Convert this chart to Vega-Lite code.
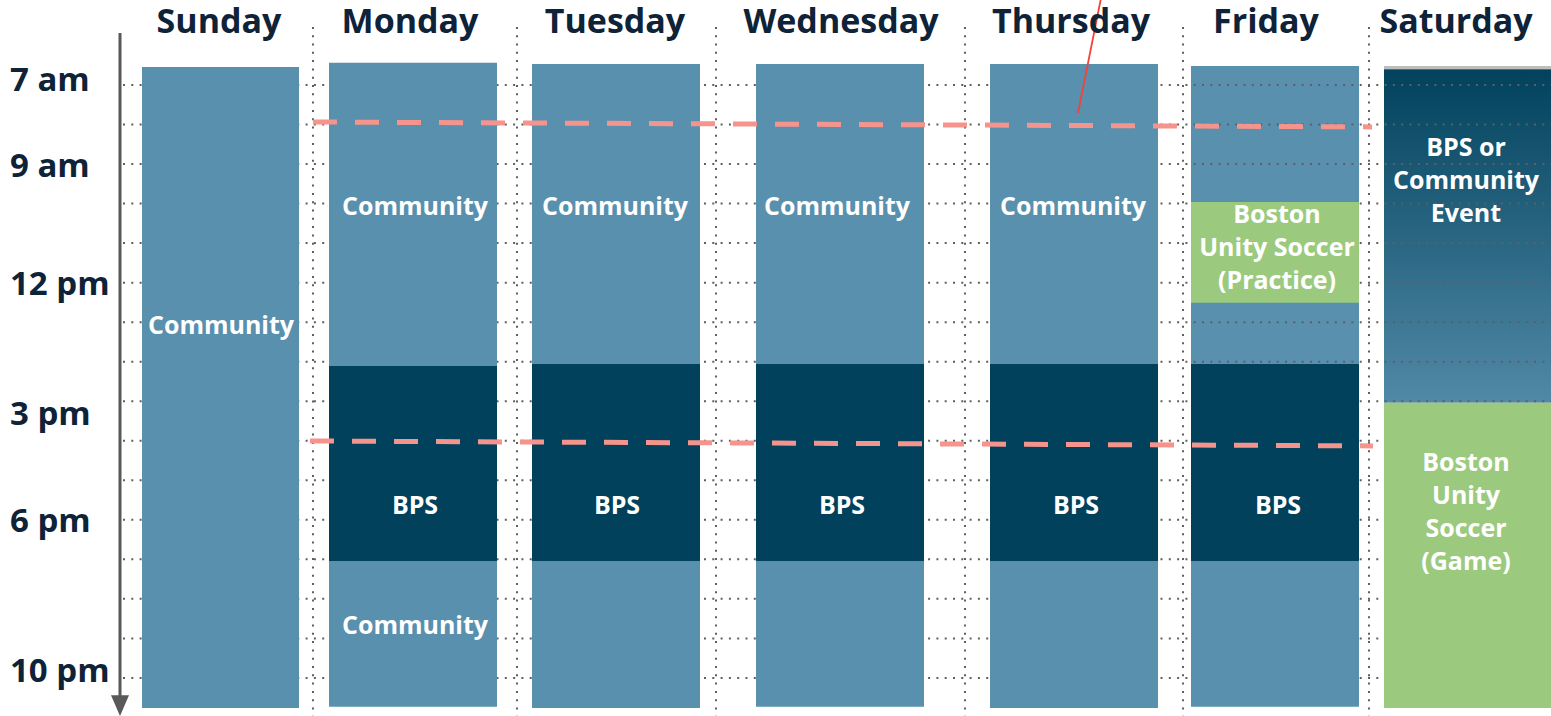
{
  "$schema": "https://vega.github.io/schema/vega-lite/v6.json",
  "width": 1551,
  "height": 716,
  "padding": 0,
  "autosize": {"type": "none"},
  "background": "white",
  "config": {"view": {"stroke": null}},
  "datasets": {
    "segments": [
      {"day": "Sunday", "x": 142, "x2": 299, "h": 6.545, "h2": 22.76, "kind": "Community", "layer": "over"},
      {"day": "Monday", "x": 329, "x2": 497, "h": 6.44, "h2": 14.11, "kind": "Community", "layer": "over"},
      {"day": "Monday", "x": 329, "x2": 497, "h": 14.11, "h2": 19.04, "kind": "BPS", "layer": "over"},
      {"day": "Monday", "x": 329, "x2": 497, "h": 19.04, "h2": 22.73, "kind": "Community", "layer": "over"},
      {"day": "Tuesday", "x": 532, "x2": 700, "h": 6.47, "h2": 14.06, "kind": "Community", "layer": "over"},
      {"day": "Tuesday", "x": 532, "x2": 700, "h": 14.06, "h2": 19.04, "kind": "BPS", "layer": "over"},
      {"day": "Tuesday", "x": 532, "x2": 700, "h": 19.04, "h2": 22.76, "kind": "Community", "layer": "over"},
      {"day": "Wednesday", "x": 756, "x2": 924, "h": 6.47, "h2": 14.06, "kind": "Community", "layer": "over"},
      {"day": "Wednesday", "x": 756, "x2": 924, "h": 14.06, "h2": 19.04, "kind": "BPS", "layer": "over"},
      {"day": "Wednesday", "x": 756, "x2": 924, "h": 19.04, "h2": 22.73, "kind": "Community", "layer": "over"},
      {"day": "Thursday", "x": 990, "x2": 1158, "h": 6.47, "h2": 14.06, "kind": "Community", "layer": "over"},
      {"day": "Thursday", "x": 990, "x2": 1158, "h": 14.06, "h2": 19.04, "kind": "BPS", "layer": "over"},
      {"day": "Thursday", "x": 990, "x2": 1158, "h": 19.04, "h2": 22.76, "kind": "Community", "layer": "over"},
      {"day": "Friday", "x": 1191, "x2": 1359, "h": 6.52, "h2": 14.06, "kind": "Community", "layer": "under"},
      {"day": "Friday", "x": 1191, "x2": 1359, "h": 9.96, "h2": 12.51, "kind": "Soccer", "layer": "over"},
      {"day": "Friday", "x": 1191, "x2": 1359, "h": 14.06, "h2": 19.04, "kind": "BPS", "layer": "over"},
      {"day": "Friday", "x": 1191, "x2": 1359, "h": 19.04, "h2": 22.73, "kind": "Community", "layer": "over"},
      {"day": "Saturday", "x": 1384, "x2": 1551, "h": 15.04, "h2": 22.76, "kind": "Soccer", "layer": "over"}
    ],
    "gradientSeg": [
      {"day": "Saturday", "x": 1384, "x2": 1551, "h": 6.6, "h2": 15.04, "kind": "BPS or Community Event"}
    ],
    "satTop": [
      {"day": "Saturday", "x": 1384, "x2": 1551, "h": 6.56}
    ],
    "hours": [
      {"h": 7}, {"h": 8}, {"h": 9}, {"h": 10}, {"h": 11}, {"h": 12}, {"h": 13}, {"h": 14},
      {"h": 15}, {"h": 16}, {"h": 17}, {"h": 18}, {"h": 19}, {"h": 20}, {"h": 21}, {"h": 22}
    ],
    "dividers": [
      {"x": 313}, {"x": 517}, {"x": 716}, {"x": 965}, {"x": 1183}, {"x": 1369}
    ],
    "dashed": [
      {"line": "top", "x": 313, "h": 7.936},
      {"line": "top", "x": 1372, "h": 8.06},
      {"line": "bottom", "x": 310, "h": 16.006},
      {"line": "bottom", "x": 1373, "h": 16.13}
    ],
    "pointer": [
      {"x": 1101, "h": 4.8},
      {"x": 1078, "h": 7.71}
    ],
    "labels": [
      {"x": 221, "h": 13.1, "text": "Community"},
      {"x": 415, "h": 10.09, "text": "Community"},
      {"x": 415, "h": 17.65, "text": "BPS"},
      {"x": 415, "h": 20.69, "text": "Community"},
      {"x": 615, "h": 10.09, "text": "Community"},
      {"x": 617, "h": 17.65, "text": "BPS"},
      {"x": 837, "h": 10.09, "text": "Community"},
      {"x": 842, "h": 17.65, "text": "BPS"},
      {"x": 1073, "h": 10.09, "text": "Community"},
      {"x": 1076, "h": 17.65, "text": "BPS"},
      {"x": 1277, "h": 10.29, "text": "Boston\nUnity Soccer\n(Practice)"},
      {"x": 1278, "h": 17.65, "text": "BPS"},
      {"x": 1466, "h": 8.594, "text": "BPS or\nCommunity\nEvent"},
      {"x": 1466, "h": 16.56, "text": "Boston\nUnity\nSoccer\n(Game)"}
    ],
    "headers": [
      {"x": 219, "h": 5.68, "text": "Sunday"},
      {"x": 410, "h": 5.68, "text": "Monday"},
      {"x": 615, "h": 5.68, "text": "Tuesday"},
      {"x": 841, "h": 5.68, "text": "Wednesday"},
      {"x": 1071, "h": 5.68, "text": "Thursday"},
      {"x": 1266, "h": 5.68, "text": "Friday"},
      {"x": 1456, "h": 5.68, "text": "Saturday"}
    ],
    "timeLabels": [
      {"x": 10, "h": 7.15, "text": "7 am"},
      {"x": 10, "h": 9.33, "text": "9 am"},
      {"x": 10, "h": 12.32, "text": "12 pm"},
      {"x": 10, "h": 15.6, "text": "3 pm"},
      {"x": 10, "h": 18.31, "text": "6 pm"},
      {"x": 10, "h": 22.1, "text": "10 pm"}
    ],
    "axisLine": [
      {"x": 120, "h": 5.685, "h2": 22.5}
    ],
    "arrowHead": [
      {"x": 120, "h": 22.7}
    ]
  },
  "layer": [
    {
      "data": {"name": "segments"},
      "transform": [{"filter": "datum.layer === 'under'"}],
      "mark": {"type": "rect"},
      "encoding": {
        "x": {"field": "x", "type": "quantitative", "scale": {"domain": [0, 1551], "nice": false, "zero": false}, "axis": null},
        "x2": {"field": "x2"},
        "y": {"field": "h", "type": "quantitative", "scale": {"domain": [4.85, 22.963], "reverse": true, "nice": false, "zero": false}, "axis": null},
        "y2": {"field": "h2"},
        "color": {"field": "kind", "type": "nominal", "scale": {"domain": ["Community", "BPS", "Soccer"], "range": ["#5990ae", "#01415c", "#9bca7e"]}, "legend": null}
      }
    },
    {
      "data": {"name": "gradientSeg"},
      "mark": {
        "type": "rect",
        "color": {
          "gradient": "linear", "x1": 0, "y1": 0, "x2": 0, "y2": 1,
          "stops": [{"offset": 0, "color": "#02425d"}, {"offset": 1, "color": "#5089a6"}]
        }
      },
      "encoding": {
        "x": {"field": "x", "type": "quantitative", "axis": null},
        "x2": {"field": "x2"},
        "y": {"field": "h", "type": "quantitative", "axis": null},
        "y2": {"field": "h2"}
      }
    },
    {
      "data": {"name": "hours"},
      "mark": {"type": "rule", "color": "#5f5f5f", "strokeWidth": 2, "strokeDash": [2, 6.3]},
      "encoding": {
        "y": {"field": "h", "type": "quantitative", "axis": null},
        "x": {"datum": 123, "type": "quantitative", "axis": null},
        "x2": {"datum": 1551}
      }
    },
    {
      "data": {"name": "dividers"},
      "mark": {"type": "rule", "color": "#5f5f5f", "strokeWidth": 2, "strokeDash": [2, 6.3]},
      "encoding": {
        "x": {"field": "x", "type": "quantitative", "axis": null},
        "y": {"datum": 5.53, "type": "quantitative", "axis": null},
        "y2": {"datum": 22.963}
      }
    },
    {
      "data": {"name": "segments"},
      "transform": [{"filter": "datum.layer === 'over'"}],
      "mark": {"type": "rect"},
      "encoding": {
        "x": {"field": "x", "type": "quantitative", "axis": null},
        "x2": {"field": "x2"},
        "y": {"field": "h", "type": "quantitative", "axis": null},
        "y2": {"field": "h2"},
        "color": {"field": "kind", "type": "nominal", "legend": null}
      }
    },
    {
      "data": {"name": "satTop"},
      "mark": {"type": "rule", "color": "#bdbdbd", "strokeWidth": 3},
      "encoding": {
        "x": {"field": "x", "type": "quantitative", "axis": null},
        "x2": {"field": "x2"},
        "y": {"field": "h", "type": "quantitative", "axis": null}
      }
    },
    {
      "data": {"name": "dashed"},
      "mark": {"type": "line", "color": "#f5948c", "strokeWidth": 5, "strokeDash": [24, 18], "strokeCap": "butt"},
      "encoding": {
        "x": {"field": "x", "type": "quantitative", "axis": null},
        "y": {"field": "h", "type": "quantitative", "axis": null},
        "detail": {"field": "line", "type": "nominal"}
      }
    },
    {
      "data": {"name": "pointer"},
      "mark": {"type": "line", "color": "#f0433a", "strokeWidth": 1.8},
      "encoding": {
        "x": {"field": "x", "type": "quantitative", "axis": null},
        "y": {"field": "h", "type": "quantitative", "axis": null}
      }
    },
    {
      "data": {"name": "labels"},
      "mark": {"type": "text", "font": "Open Sans", "fontWeight": "bold", "fontSize": 25, "color": "white", "align": "center", "baseline": "middle", "lineBreak": "\n", "lineHeight": 33},
      "encoding": {
        "x": {"field": "x", "type": "quantitative", "axis": null},
        "y": {"field": "h", "type": "quantitative", "axis": null},
        "text": {"field": "text"}
      }
    },
    {
      "data": {"name": "headers"},
      "mark": {"type": "text", "font": "Open Sans", "fontWeight": "bold", "fontSize": 34, "color": "#0e2238", "align": "center", "baseline": "alphabetic"},
      "encoding": {
        "x": {"field": "x", "type": "quantitative", "axis": null},
        "y": {"field": "h", "type": "quantitative", "axis": null},
        "text": {"field": "text"}
      }
    },
    {
      "data": {"name": "timeLabels"},
      "mark": {"type": "text", "font": "Open Sans", "fontWeight": "bold", "fontSize": 33, "color": "#0e2238", "align": "left", "baseline": "alphabetic"},
      "encoding": {
        "x": {"field": "x", "type": "quantitative", "axis": null},
        "y": {"field": "h", "type": "quantitative", "axis": null},
        "text": {"field": "text"}
      }
    },
    {
      "data": {"name": "axisLine"},
      "mark": {"type": "rule", "color": "#595959", "strokeWidth": 3},
      "encoding": {
        "x": {"field": "x", "type": "quantitative", "axis": null},
        "y": {"field": "h", "type": "quantitative", "axis": null},
        "y2": {"field": "h2"}
      }
    },
    {
      "data": {"name": "arrowHead"},
      "mark": {"type": "point", "shape": "M-1,-1.15L1,-1.15L0,1.15Z", "size": 324, "filled": true, "color": "#595959", "opacity": 1, "strokeWidth": 0},
      "encoding": {
        "x": {"field": "x", "type": "quantitative", "axis": null},
        "y": {"field": "h", "type": "quantitative", "axis": null}
      }
    }
  ]
}
